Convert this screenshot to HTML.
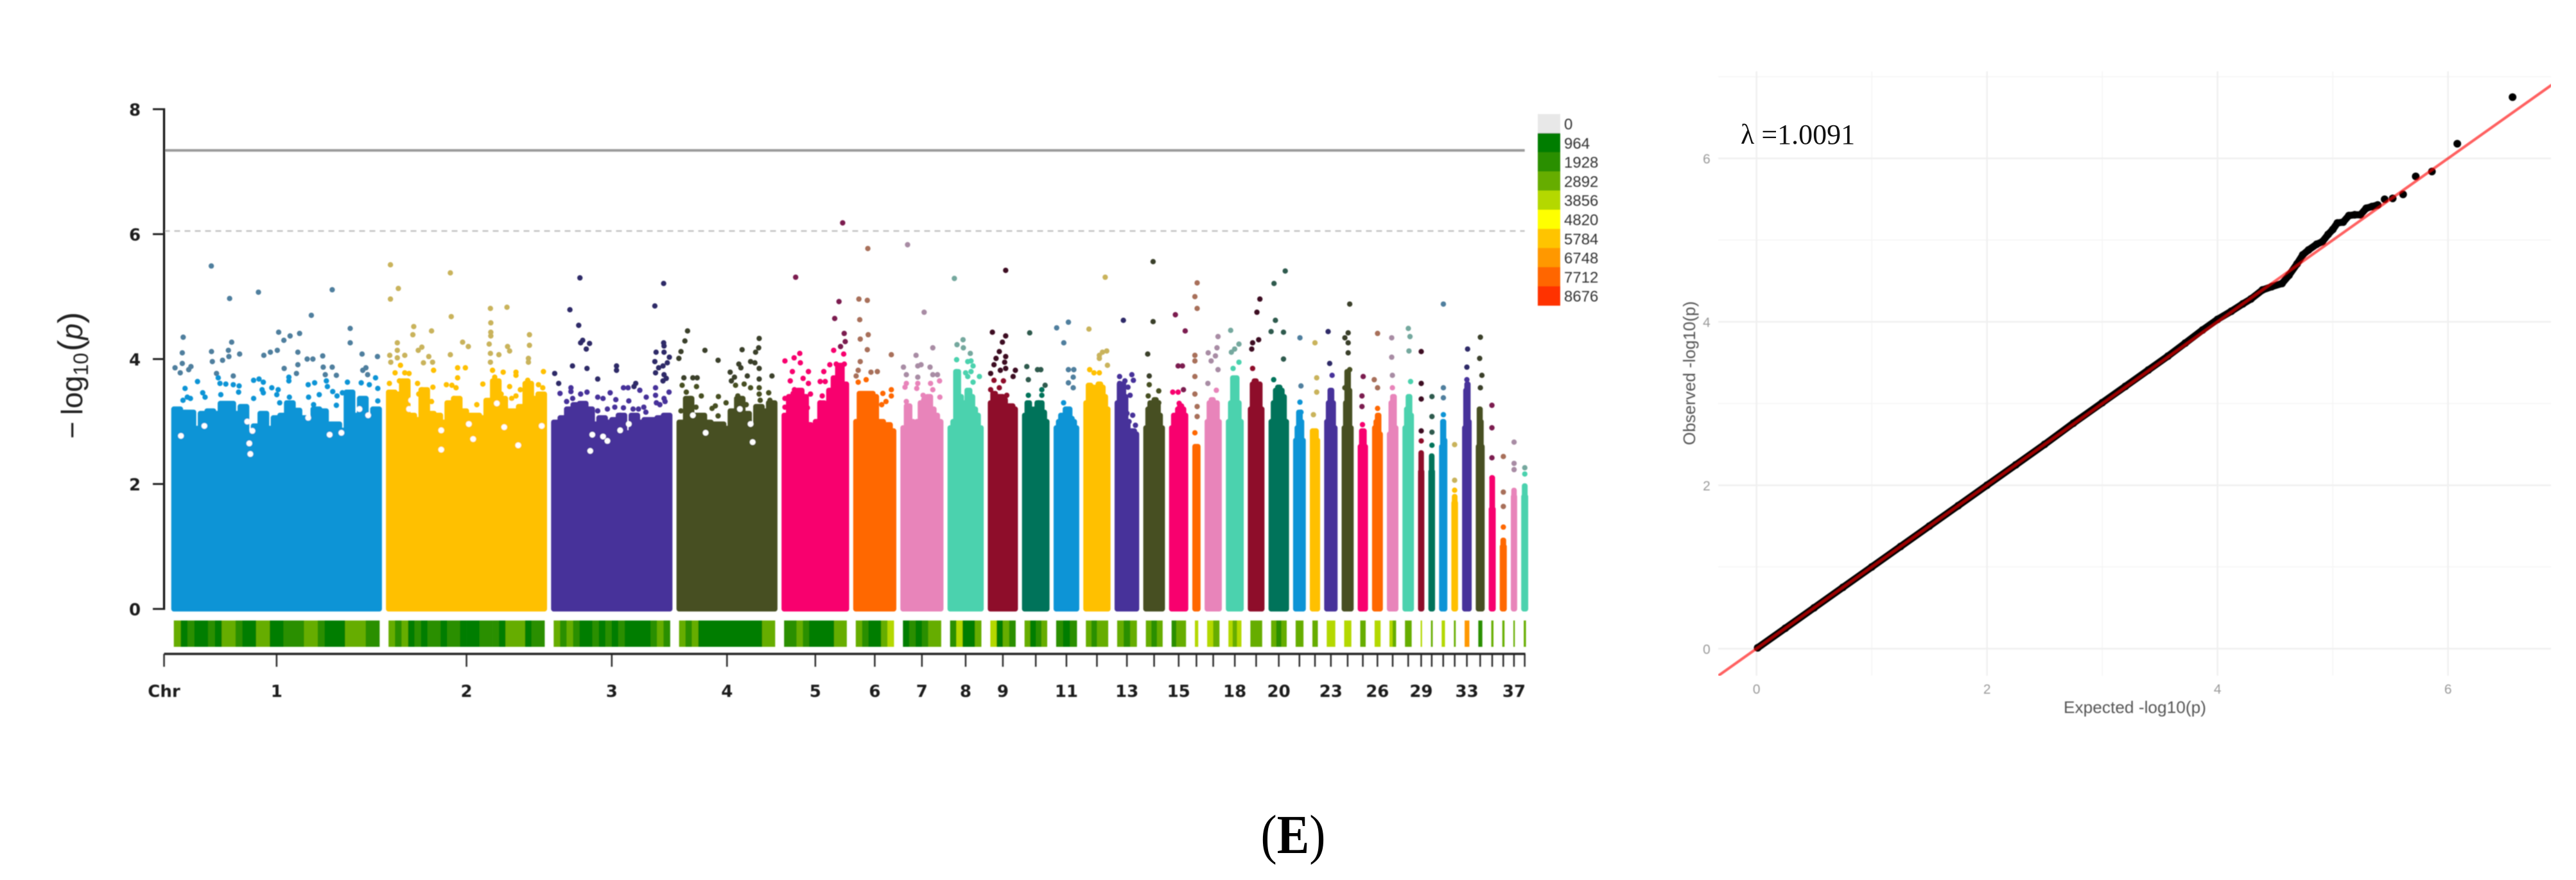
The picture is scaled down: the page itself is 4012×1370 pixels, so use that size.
<!DOCTYPE html>
<html lang="en">
<head>
<meta charset="utf-8">
<title>Manhattan and QQ plots</title>
<style>
html,body{margin:0;padding:0;background:#fff;width:4012px;height:1370px;overflow:hidden}
svg{display:block}
.mh{font-family:"DejaVu Sans","Liberation Sans",sans-serif;font-weight:700;fill:#1a1a1a}
</style>
</head>
<body>
<svg id="figure" xmlns="http://www.w3.org/2000/svg" width="4012" height="1370" viewBox="0 0 4012 1370">
  <defs>
    <filter id="soft" filterUnits="userSpaceOnUse" x="0" y="0" width="4012" height="1370"><feGaussianBlur stdDeviation="0.9"/></filter>
    <filter id="softer" filterUnits="userSpaceOnUse" x="0" y="0" width="4012" height="1370"><feGaussianBlur stdDeviation="1.3"/></filter>
    <clipPath id="qq-clip"><rect x="2676" y="111" width="1297" height="941"/></clipPath>
  </defs>
  <rect width="4012" height="1370" fill="#fff"/>
  <g id="manhattan" filter="url(#soft)"></g>
  <g id="manhattan-text" filter="url(#soft)"></g>
  <g filter="url(#soft)">
    <text transform="translate(128,683) rotate(-90)" font-family="'Liberation Sans',sans-serif" font-size="46" fill="#222">−<tspan dx="10">log</tspan><tspan font-size="32" dy="9">10</tspan><tspan dy="-9" dx="2" font-size="54">(</tspan><tspan font-style="italic">p</tspan><tspan font-size="54">)</tspan></text>
  </g>
  <g id="legend" filter="url(#soft)"></g>
  <g id="qq-grid" filter="url(#soft)"></g>
  <g clip-path="url(#qq-clip)">
    <g id="qq-marks" filter="url(#soft)"></g>
  </g>
  <g id="qq-text" filter="url(#soft)"></g>
  <g filter="url(#soft)">
    <text x="3325" y="1110" text-anchor="middle" textLength="222" lengthAdjust="spacingAndGlyphs" font-family="'Liberation Sans',sans-serif" font-size="26" fill="#555">Expected -log10(p)</text>
    <text transform="translate(2640,581) rotate(-90)" text-anchor="middle" textLength="224" lengthAdjust="spacingAndGlyphs" font-family="'Liberation Sans',sans-serif" font-size="26" fill="#555">Observed -log10(p)</text>
  </g>
  <text x="2711" y="224" font-family="'Liberation Serif',serif" font-size="44" fill="#111">λ =1.0091</text>
  <text transform="translate(2014,1328) scale(0.88,1)" text-anchor="middle" font-family="'Liberation Serif',serif" font-size="86" fill="#000">(<tspan font-weight="700">E</tspan>)</text>
</svg>
<script>
const chromosomes = ['1','2','3','4','5','6','7','8','9','10','11','12','13','14','15','16','17','18','19','20','21','22','23','24','25','26','27','28','29','30','31','32','33','34','35','36','37','38'];
const chrLengths = [122,93.3,70.3,58.5,39.2,25,25,21,17.5,16,14.9,15.8,14.3,12.6,11.2,4.8,10,10.4,9.7,11.9,7.4,6,7.8,7,6,6.3,6.7,6.7,3.7,3.9,4.8,3.9,5.6,5.2,4.1,4.1,3.7,4.1];
const chrTickLabels = ['1','2','3','4','5','6','7','8','9','','11','','13','','15','','','18','','20','','','23','','','26','','','29','','','','33','','','','37',''];
const yTicks = [0,2,4,6,8];
const genomeWideLine = 7.34;
const suggestiveLine = 6.05;
const legendBreaks = [0,964,1928,2892,3856,4820,5784,6748,7712,8676];
const densityTop = [
[3.20,3.15,3.15,2.89,3.13,3.17,3.13,3.29,3.29,3.13,3.24,2.82,2.93,3.13,2.89,3.06,3.10,3.30,3.18,3.06,2.99,3.20,3.17,2.96,2.96,2.86,3.47,3.10,3.37,3.03,3.20],
[3.47,3.44,3.65,3.10,3.03,3.51,3.13,3.10,2.99,3.30,3.37,3.17,3.10,3.10,3.06,3.34,3.65,3.37,3.17,3.17,3.24,3.61,3.37,3.44],
[2.99,3.06,3.20,3.27,3.29,3.20,2.96,3.06,2.99,3.03,3.10,2.82,3.10,2.99,3.03,3.03,3.06,3.10],
[2.99,3.37,3.10,3.10,2.99,2.96,2.96,2.89,3.17,3.37,3.13,2.93,3.24,3.17,3.30],
[3.1,3.4,3.45,3.5,3.4,2.95,2.7,3.0,3.3,3.15,3.5,3.7,3.9,3.6],
[3.0,3.45,3.45,3.45,3.45,3.4,3.0,3.0,2.9,2.95,2.85],
[2.9,3.25,3.0,2.9,3.0,3.3,3.35,3.4,3.2,3.1,3.0],
[2.9,3.0,3.8,3.4,3.1,3.3,3.5,3.4,3.2,3.1,2.9],
[3.3,3.45,3.35,3.4,3.4,3.35,3.25,3.25,3.25,3.2],
[3.1,3.3,3.2,3.1,3.2,3.3,3.3,3.15,3.0],
[2.9,3.0,3.1,3.1,3.2,3.2,3.05,3.0,2.9],
[3.3,3.58,3.55,3.45,3.55,3.6,3.55,3.4,3.2],
[3.3,3.6,3.6,3.4,3.0,2.85,2.85,2.85,2.8],
[2.9,3.2,3.3,3.0,3.35,3.3,3.1,2.9],
[2.9,3.1,3.0,3.2,3.25,3.2,3.1],
[2.6,2.6,2.6],
[3.0,3.3,3.35,3.3,3.3,3.0],
[3.0,3.3,3.7,3.7,3.3,3.0],
[3.2,3.6,3.65,3.6,3.6,3.2],
[3.0,3.3,3.5,3.55,3.5,3.4,3.0],
[2.7,2.9,3.15,3.0,2.7],
[2.85,2.85,2.85,2.7],
[3.0,3.3,3.5,3.3,2.9],
[2.9,3.3,3.8,3.5,2.9],
[2.6,2.85,2.85,2.6],
[2.9,3.0,3.1,2.8],
[2.8,3.3,3.4,2.9],
[2.9,3.2,3.4,3.1],
[2.2,2.5,2.2],
[2.2,2.45,2.2],
[2.6,3.0,2.7],
[1.7,1.8,1.7],
[2.9,3.5,3.6,3.0],
[2.6,3.2,3.0,2.6],
[1.6,2.1,1.6],
[1.0,1.1,1.0],
[1.8,1.9,1.8],
[1.8,1.97,1.8]
];
const densityGapChr = [0,0,0,0,0,0,0,0,0,0,0,1,1,1,1,1,1,1,1,1,1,1,1,2,2,2,2,2,2,3,3,3,3,3];
const densityGapPos = [45.2,45.8,44,79.3,19.2,5.6,91.7,98.5,109,114,47,68.5,13.4,14.6,29.5,32,32,48,50.5,76.6,90.2,64.2,72.8,23.9,30.1,40,45,32.6,22.7,16.9,42.9,44.1,36.7,9.5];
const densityGapLog = [2.65,2.48,3.0,3.06,2.93,2.77,2.79,2.82,3.2,3.1,2.85,2.91,3.2,3.34,3.37,2.86,2.55,2.96,2.72,2.62,2.93,3.29,3.29,2.79,2.76,2.86,2.96,2.69,2.53,2.82,2.96,2.67,3.2,3.1];
const snpHits = [
[[23.2,5.49],[33.8,4.97],[50.5,5.07],[93.2,5.11],[81.1,4.70],[103.6,4.49],[103.6,4.26],[6.9,4.35],[35,4.27],[6.4,4.10],[23.3,4.12],[33.1,4.14],[33.4,4.04],[39.6,4.08],[62.2,4.43],[68.8,4.37],[65.2,4.30],[74.3,4.41],[53.6,4.06],[57.4,4.11],[61.4,4.14],[73.3,4.11],[78.7,4.00],[82,4.00],[87.7,4.05],[110.5,4.08],[119.4,4.04],[23.8,3.96],[29.7,3.98],[6.4,3.93],[2.2,3.86],[5.2,3.78],[10.1,3.83],[11.4,3.88],[73.3,3.91],[65.4,3.85],[88,3.87],[93.2,3.87],[72.5,3.77],[89.2,3.75],[95.6,3.74],[110.9,3.82],[112.7,3.86],[113.7,3.75],[118.3,3.70],[26.2,3.77],[27.2,3.70],[35.9,3.73],[15.2,3.64],[8,3.53],[28.2,3.61],[31.6,3.60],[35.9,3.59],[39.3,3.57],[47.7,3.66],[50.8,3.68],[53.3,3.63],[52.6,3.51],[58.2,3.54],[61.9,3.51],[68.1,3.71],[68.1,3.65],[79.3,3.59],[83,3.62],[89.8,3.65],[90.4,3.56],[102,3.63],[110,3.62],[114.7,3.59],[119.6,3.53],[93.5,3.48],[99.1,3.46],[96,3.41],[85.7,3.43],[79.5,3.39],[68.4,3.39],[18.2,3.46],[19.6,3.39],[28.7,3.43],[39,3.47],[53.3,3.46],[61.1,3.43],[47.7,3.37],[62.8,3.30],[82.4,3.27],[95.6,3.26],[9.3,3.39],[6.8,3.34],[11.1,3.37],[119.6,3.33],[103.5,3.44]],
[[2.6,5.51],[37.3,5.38],[7.2,5.13],[2.6,4.96],[60.5,4.81],[70.1,4.83],[37.8,4.68],[60.7,4.58],[60.7,4.43],[60.7,4.37],[16.1,4.52],[15.6,4.39],[26.4,4.45],[83.1,4.39],[83.1,4.22],[6.6,4.26],[44.4,4.27],[47.7,4.20],[59.8,4.24],[70.4,4.20],[71.6,4.13],[20.8,4.19],[18.7,4.14],[10.9,4.06],[37.3,4.07],[65.4,4.07],[60.5,4.09],[24.8,4.04],[27,3.95],[21.7,3.94],[82.5,4.01],[82.5,3.95],[41.5,3.86],[46,3.86],[60.5,3.95],[27.6,3.82],[67.9,3.79],[75.3,3.79],[75.3,3.74],[91.2,3.80],[41.5,3.70],[13.4,3.77],[10.9,3.78],[56.1,3.60],[27.2,3.55],[2,3.61],[35,3.59],[38.2,3.58],[40.6,3.54],[71.6,3.56],[88.3,3.59],[77.8,3.51],[52.6,3.27],[2.2,4.06],[6.6,4.14],[6.6,4.02],[2.8,3.95],[8.4,3.90],[5.3,3.78],[7.8,3.65],[10.3,3.62],[18.3,3.61],[20.8,3.51],[19,3.44],[61.7,3.82],[63,3.71],[65.4,3.61],[82.1,3.66],[82.8,3.56],[90.8,3.54],[10.9,3.27],[7.8,3.30],[21.4,3.24],[26.4,3.32],[39.4,3.37],[41.9,3.30],[35.7,3.20],[66.7,3.44],[72.8,3.37],[75.3,3.41],[82.8,3.24],[86.5,3.2]],
[[16.7,5.30],[10.9,4.79],[16,4.54],[18.3,4.30],[17.1,4.26],[22.3,4.25],[20.4,4.16],[12.4,3.89],[20.8,3.85],[37.9,3.89],[37.9,3.82],[27,3.68],[11.5,3.54],[11.5,3.48],[17.1,3.44],[20.8,3.47],[12.5,3.37],[9,3.32],[27,3.39],[30.1,3.37],[34.2,3.46],[37.5,3.35],[45,3.33],[41.9,3.54],[44.6,3.54],[49,3.61],[48,3.56],[51.4,3.50],[55.1,3.39],[60.5,3.54],[60.5,3.42],[68.3,3.47],[65.2,4.26],[65.4,4.21],[65.2,5.21],[60.1,4.85],[60.8,4.11],[65.4,4.11],[68.5,4.03],[60.1,3.96],[67.3,3.94],[64.8,3.89],[62.3,3.86],[60.5,3.78],[65.4,3.75],[66.7,3.69],[64.8,3.65],[65.4,3.37],[61,3.30],[66,3.32],[63,3.27],[41.9,3.22],[27,3.17],[32.6,3.2],[36.9,3.23],[40,3.1],[47.5,3.2],[50.6,3.2],[53.7,3.23],[54.9,3.15],[47.5,3.06],[2.1,3.77],[4.4,3.61],[5.2,3.45]],
[[6.4,4.45],[4.9,4.29],[2.6,4.12],[1.4,4.01],[16.5,4.14],[24.1,3.98],[47.9,4.33],[47.6,4.18],[45.8,4.11],[38,4.15],[36.1,3.92],[37.3,3.86],[42.9,3.96],[45.4,3.94],[47.9,3.85],[31.1,3.79],[33.6,3.71],[41,3.73],[55.3,3.73],[47.9,3.68],[4.3,3.70],[9.5,3.70],[12,3.70],[11.6,3.56],[3.3,3.58],[14.4,3.41],[24.3,3.40],[28.7,3.30],[11.3,3.23],[20.6,3.21],[22.5,3.25],[24.1,3.09],[31.8,3.65],[34.2,3.58],[39.2,3.6],[42.9,3.54],[47.9,3.54],[47.9,3.44],[48.5,3.34],[53.4,3.46],[35.5,3.41],[38,3.3],[40.4,3.27],[5.7,3.47],[8.2,3.37],[5.7,3.3],[2.6,3.17],[54.1,3.34]],
[[35.4,6.18],[8.2,5.31],[33.3,4.92],[30.8,4.65],[36.3,4.41],[36.9,4.28],[34.2,4.2],[30.2,4.14],[10.6,4.09],[7.3,4.02],[2,3.97],[10.9,3.94],[36,4.08],[28,3.91],[31.7,3.92],[36.4,3.92],[6.3,3.80],[15.6,3.80],[24.5,3.80],[33,3.79],[12.5,3.69],[5.1,3.65],[15.6,3.61],[22.4,3.64],[25.3,3.64],[34.2,3.63],[7.5,3.51],[11.3,3.46],[16.8,3.44],[23.6,3.41],[31.1,3.44],[2,3.37],[2,3.23],[22.4,3.30],[15,3.22],[36.7,3.51]],
[[8.5,5.77],[3.3,4.96],[8.2,4.94],[3.8,4.63],[8.7,4.39],[4.1,4.32],[8.2,4.15],[22.1,4.07],[4.1,3.96],[2.9,3.82],[1.7,3.73],[2.9,3.63],[7.5,3.67],[10.3,3.79],[14,3.8],[17.2,3.45],[22.1,3.51],[22.1,3.41],[19,3.32],[16.5,3.27]],
[[4.2,5.83],[13.8,4.75],[18.8,4.18],[9.1,4.06],[1.8,3.87],[10.1,3.89],[12,3.91],[17.2,3.87],[3.5,3.75],[18.8,3.75],[21.5,3.75],[10.1,3.71],[3.5,3.61],[10.1,3.61],[17.5,3.61],[22.7,3.65],[2.7,3.55],[9.5,3.53],[18.8,3.51],[22.9,3.39],[3.5,3.32],[13.2,3.42]],
[[4,5.29],[9,4.31],[5.5,4.23],[9.2,4.18],[13.2,4.09],[13.6,3.97],[5.3,3.99],[11.7,3.96],[14.8,3.89],[5.3,3.8],[10.5,3.78],[13.6,3.8],[18.5,3.72],[11.7,3.72],[14.8,3.63]],
[[10.4,5.42],[2.7,4.43],[10.4,4.37],[8.5,4.27],[6.7,4.12],[10.4,4.04],[4.8,4.01],[3.6,3.91],[9.8,3.95],[10.4,3.85],[7.3,3.82],[1.7,3.77],[16,3.82],[14.7,3.72],[3.6,3.66],[9.1,3.65],[6.7,3.54],[1.7,3.51],[11,3.42]],
[[4.5,4.42],[2.8,3.88],[10.9,3.83],[9,3.83],[3.7,3.67],[13.4,3.58],[11.5,3.51],[3.7,3.42],[11.5,3.42],[9.7,3.30]],
[[8.6,4.59],[1.8,4.5],[5.9,4.26],[8.6,3.83],[11.7,3.83],[11.4,3.71],[8.6,3.62],[11.4,3.54],[5.8,3.3]],
[[12.7,5.31],[3.3,4.48],[13.6,4.13],[11.1,4.11],[9.3,4.06],[9.3,4.01],[14,3.9],[3.7,3.83],[6.2,3.78],[9.3,3.78]],
[[5.1,4.62],[2.9,3.72],[10,3.75],[10.9,3.66],[6,3.65],[7.8,3.55],[2.9,3.61],[9,3.42],[7.2,3.13],[10.5,3.1],[8.4,3.0],[12.1,2.94]],
[[5.7,5.56],[5.7,4.6],[2.6,4.08],[3.5,3.73],[3.5,3.59],[9,3.49],[2.9,3.41],[9,3.3]],
[[3.7,4.71],[9.4,4.45],[7.8,3.89],[5.3,3.89],[8.4,3.51],[5.3,3.47],[2.2,3.47],[5.9,3.29]],
[[2.8,5.22],[1.5,5.0],[2.8,4.81],[1.5,4.06],[1.5,3.97],[1.5,3.72],[1.5,3.44],[2.8,3.24],[2.8,3.08],[1.5,2.82]],
[[7.8,4.36],[7.2,4.18],[2.1,4.1],[6.3,4.05],[3.8,3.97],[7.8,3.83],[1.9,3.61],[6.8,3.5]],
[[2.8,4.46],[7.6,4.24],[5.1,4.16],[3.2,4.11],[7.6,3.95],[4.2,3.85]],
[[7,4.96],[5.3,4.75],[6.3,4.31],[2.8,4.26],[2.3,4.16],[2.8,3.85]],
[[9.7,5.41],[3.2,5.21],[4,4.62],[1.5,4.44],[8.7,4.43],[8.7,4.0],[3,3.67]],
[[4,4.34],[4.6,3.57],[4,3.31],[4.6,3.15]],
[[3,4.26],[4,3.7],[4,3.47],[2.1,3.11]],
[[2.3,4.44],[3.2,3.93],[4.6,3.74],[3.8,3.47]],
[[4.7,4.88],[3.8,4.42],[1.9,4.34],[3.8,4.26],[3.8,4.1],[4.7,3.83],[1.9,3.54]],
[[3.2,3.72],[2.5,3.41],[2.5,3.24],[2.8,2.95]],
[[3.2,4.41],[1.3,3.67],[3.2,3.54],[3.2,3.21]],
[[2.8,4.34],[2.8,4.03],[3.2,3.74],[3.2,3.54]],
[[3.4,4.49],[4.4,4.36],[3.8,4.13],[4.7,3.64]],
[[1.9,4.12],[1.9,3.61],[1.9,3.36],[1.9,2.85],[1.9,2.69]],
[[2.1,3.4],[2.1,3.08],[2.1,2.83],[2.1,2.62]],
[[2.5,4.88],[2.5,3.54],[2.5,3.38],[2.5,3.11]],
[[1.9,2.63],[1.9,2.06],[1.9,1.9]],
[[3.2,4.16],[2.8,3.87],[2.8,3.67]],
[[2.7,4.35],[2.3,4.01],[3.6,3.74],[2.7,3.54],[2.3,3.15],[2.3,2.88]],
[[1.9,3.26],[1.9,2.9],[1.9,2.42],[1.9,2.1]],
[[2.1,2.44],[2.1,1.87],[2.1,1.64],[2.1,1.31]],
[[1.9,2.67],[1.9,2.33],[1.9,2.23]],
[[2.1,2.26],[2.1,2.16],[2.1,1.83],[2.1,1.67]]
];
const heatBins = [
[2500,800,1400,800,800,1900,600,2000,2100,1200,600,500,2000,2000,500,500,1300,1300,1300,2200,2200,1000,700,700,700,2500,2500,2300,1700,1700],
[2800,1400,2000,700,1300,600,1700,1700,700,1800,1800,500,500,500,1200,1500,1500,800,2000,2300,2300,900,1800,1800],
[2600,1500,2200,1000,700,700,1100,700,1000,700,1000,700,800,700,600,1000,2600,1500],
[2400,1000,2000,700,700,900,700,900,700,800,600,600,600,2200,2600],
[1300,1900,2100,1500,700,500,600,700,2000,2700],
[2100,1800,700,800,2200,3000],
[900,1500,800,1000,2000,2400],
[1300,3000,600,700,2300],
[3200,900,2000,1900],
[2800,900,1400,2600],
[1200,800,1200],
[2600,1500,2500,2600],
[2200,1500,2500],
[2500,1900,2600],
[1000,2300,2600],
[2900],
[3300,2800],
[3000,2500,3000],
[2700,2500],
[2700,1900,2700],
[2800,2800],
[2400],
[3200,3000],
[3600,3400],
[2600],
[3500],
[3000,2700],
[2500],
[3200],
[2700],
[3500],
[2400],
[6200],
[1400],
[2600],
[2600],
[2800],
[2400]
];
const qqExpected = [0.01,0.25,0.5,0.75,1,1.25,1.5,1.75,2,2.25,2.5,2.75,3,3.2,3.4,3.57,3.72,3.87,4,4.12,4.22,4.29,4.39,4.47,4.56,4.62,4.69,4.74,4.79,4.86,4.91,4.96,5,5.04,5.09,5.14,5.19,5.24,5.29,5.34,5.39,5.45,5.52,5.61,5.72,5.86,6.08,6.56];
const qqObserved = [0.01,0.25,0.5,0.75,1,1.25,1.5,1.75,2,2.25,2.5,2.76,3.01,3.21,3.41,3.58,3.74,3.9,4.03,4.13,4.22,4.28,4.39,4.43,4.47,4.57,4.71,4.82,4.88,4.95,4.98,5.07,5.13,5.21,5.22,5.30,5.31,5.31,5.39,5.41,5.43,5.50,5.51,5.56,5.78,5.84,6.18,6.75];
const qqMajorTicks = [0,2,4,6];
const qqMinorTicks = [1,3,5];
const qqRefRange = [-0.33,6.9];

(function(){
const NS = 'http://www.w3.org/2000/svg';
const palette = ['#0a94d6','#ffc000','#46309a','#474f20','#f8006e','#ff6800','#e884ba','#4bd2ae','#8e1029','#00735a'];
const darkPalette = ['#4f7f9e','#c9b35c','#2e2a68','#3b3f2b','#7c1a50','#a8705a','#a88ca4','#74a89e','#3e0f20','#2f5a4e'];
const legendColors = ['#e8e8e8','#007d00','#2a8f00','#66ad00','#b4d800','#ffff00','#ffc400','#ff9800','#ff6600','#ff3000'];
const mh = document.getElementById('manhattan');
const mhText = document.getElementById('manhattan-text');
const legend = document.getElementById('legend');
const qqGrid = document.getElementById('qq-grid');
const qqMarks = document.getElementById('qq-marks');
const qqText = document.getElementById('qq-text');
function mk(tag, parent, attrs, txt){
  const e = document.createElementNS(NS, tag);
  for (const k in attrs) e.setAttribute(k, attrs[k]);
  if (txt !== undefined) e.textContent = txt;
  parent.appendChild(e);
  return e;
}
const K = 2.69, GAP = 6.2, X0 = 266.7, PAD = 1.5;
const Y0 = 948, YU = 97.25;
const offsets = [];
let cum = 0;
chrLengths.forEach(function(L){ offsets.push(cum); cum += L * K + GAP; });
const xPos = function(i, pos){ return X0 + offsets[i] + pos * K; };
const yVal = function(v){ return Y0 - v * YU; };
const axisLeft = 255.5;
const lastCenter = xPos(37, chrLengths[37] / 2);

/* threshold lines */
let el = mk('line', mh, {x1:axisLeft, x2:lastCenter, y1:yVal(genomeWideLine), y2:yVal(genomeWideLine), stroke:'#9a9a9a', 'stroke-width':4});


el = mk('line', mh, {x1:axisLeft, x2:lastCenter, y1:yVal(suggestiveLine), y2:yVal(suggestiveLine), stroke:'#c4c4c4', 'stroke-width':2.5, 'stroke-dasharray':'9 7'});



/* chromosomes */
chromosomes.forEach(function(name, i){
  const L = chrLengths[i], tops = densityTop[i], color = palette[i % 10];
  const n = tops.length, w = (L - 2 * PAD) / n;
  let d = 'M' + xPos(i, PAD) + ' ' + yVal(0);
  tops.forEach(function(v, j){
    d += 'L' + xPos(i, PAD + j * w).toFixed(1) + ' ' + yVal(v).toFixed(1);
    d += 'L' + xPos(i, PAD + (j + 1) * w).toFixed(1) + ' ' + yVal(v).toFixed(1);
  });
  d += 'L' + xPos(i, L - PAD) + ' ' + yVal(0) + 'Z';
  const block = mk('path', mh, {d:d, fill:color, stroke:color, 'stroke-width':8, 'stroke-linejoin':'round'});
  
  
  densityGapChr.forEach(function(c, g){
    if (c !== i) return;
    const gapDot = mk('circle', mh, {cx:xPos(i, densityGapPos[g]).toFixed(1), cy:yVal(densityGapLog[g]).toFixed(1), r:4.5, fill:'#fff'});
    
    
  });
  const peak = Math.max.apply(null, tops);
  snpHits[i].forEach(function(p){
    const dark = p[1] > peak + 0.25;
    const c = mk('circle', mh, {cx:xPos(i, p[0]).toFixed(1), cy:yVal(p[1]).toFixed(1), r:4.2, fill: dark ? darkPalette[i % 10] : color});
    
    
  });
  /* density strip */
  const bins = heatBins[i], bw = (L - 2 * PAD) / bins.length;
  bins.forEach(function(v, j){
    const band = Math.min(legendColors.length - 1, Math.ceil(v / legendBreaks[1]));
    const r = mk('rect', mh, {x:xPos(i, PAD + j * bw).toFixed(1), y:966, width:(bw * K + 0.4).toFixed(1), height:41, fill:legendColors[band]});
    
    
  });
  /* x ticks and labels */
  const cx = xPos(i, L / 2);
  const t = mk('line', mh, {x1:cx, x2:cx, y1:1018, y2:1038, stroke:'#333', 'stroke-width':2.6});
  
  
  if (chrTickLabels[i]) {
    const lab = mk('text', mhText, {x:cx, y:1085, 'text-anchor':'middle', 'font-size':26, 'class':'mh'}, chrTickLabels[i]);
    
    
  }
});

/* axes */
el = mk('line', mh, {x1:axisLeft, x2:axisLeft, y1:yVal(yTicks[yTicks.length - 1]) - 1.5, y2:yVal(0) + 1.5, stroke:'#111', 'stroke-width':3.2});


el = mk('line', mh, {x1:axisLeft, x2:lastCenter + 1, y1:1018, y2:1018, stroke:'#222', 'stroke-width':3.6});


el = mk('line', mh, {x1:axisLeft, x2:axisLeft, y1:1018, y2:1038, stroke:'#333', 'stroke-width':2.6});


el = mk('text', mhText, {x:axisLeft, y:1085, 'text-anchor':'middle', 'font-size':26, 'class':'mh'}, 'Chr');


yTicks.forEach(function(v){
  const y = yVal(v);
  const t = mk('line', mh, {x1:238, x2:axisLeft, y1:y, y2:y, stroke:'#222', 'stroke-width':3});
  
  
  const lab = mk('text', mhText, {x:210, y:y + 10, 'text-anchor':'middle', 'font-size':26, 'class':'mh'}, String(v));
  
  
});

/* legend */
legendBreaks.forEach(function(v, i){
  const y = 177.5 + 29.8 * i;
  const r = mk('rect', legend, {x:2395, y:y.toFixed(1), width:35, height:30.2, fill:legendColors[i]});
  
  
  const lab = mk('text', legend, {x:2436, y:(y + 24).toFixed(1), 'font-family':"'Liberation Sans',sans-serif", 'font-size':24, fill:'#333'}, String(v));
  
  
});

/* QQ plot */
const qx = function(v){ return 2735.7 + v * 179.5; };
const qy = function(v){ return 1009.8 - v * 127.2; };
const QL = 2676, QR = 3973, QT = 111, QB = 1052;
qqMinorTicks.forEach(function(v){
  let g = mk('line', qqGrid, {x1:qx(v), x2:qx(v), y1:QT, y2:QB, stroke:'#f5f5f5', 'stroke-width':1.6});
  
  
  g = mk('line', qqGrid, {x1:QL, x2:QR, y1:qy(v), y2:qy(v), stroke:'#f5f5f5', 'stroke-width':1.6});
  
  
});
el = mk('line', qqGrid, {x1:QL, x2:QR, y1:qy(7), y2:qy(7), stroke:'#f5f5f5', 'stroke-width':1.6});


qqMajorTicks.forEach(function(v){
  let g = mk('line', qqGrid, {x1:qx(v), x2:qx(v), y1:QT, y2:QB, stroke:'#f0f0f0', 'stroke-width':2.6});
  
  
  g = mk('line', qqGrid, {x1:QL, x2:QR, y1:qy(v), y2:qy(v), stroke:'#f0f0f0', 'stroke-width':2.6});
  
  
  const lx = mk('text', qqText, {x:qx(v), y:1080, 'text-anchor':'middle', 'font-family':"'Liberation Sans',sans-serif", 'font-size':21, fill:'#9a9a9a'}, String(v));
  
  
  const ly = mk('text', qqText, {x:2658, y:qy(v) + 8, 'text-anchor':'middle', 'font-family':"'Liberation Sans',sans-serif", 'font-size':21, fill:'#9a9a9a'}, String(v));
  
  
});
const dense = [];
qqExpected.forEach(function(v, i){ if (v < 5.4) dense.push(qx(v).toFixed(1) + ',' + qy(qqObserved[i]).toFixed(1)); });
el = mk('polyline', qqMarks, {points:dense.join(' '), fill:'none', stroke:'#000', 'stroke-width':11, 'stroke-linecap':'round', 'stroke-linejoin':'round'});


qqExpected.forEach(function(v, i){
  const c = mk('circle', qqMarks, {cx:qx(v).toFixed(1), cy:qy(qqObserved[i]).toFixed(1), r:6, fill:'#000'});
  
  
});
el = mk('line', qqMarks, {x1:qx(qqRefRange[0]), y1:qy(qqRefRange[0]), x2:qx(qqRefRange[1]), y2:qy(qqRefRange[1]), stroke:'#ff0000', 'stroke-opacity':0.62, 'stroke-width':4.2});


})();
</script>
</body>
</html>
